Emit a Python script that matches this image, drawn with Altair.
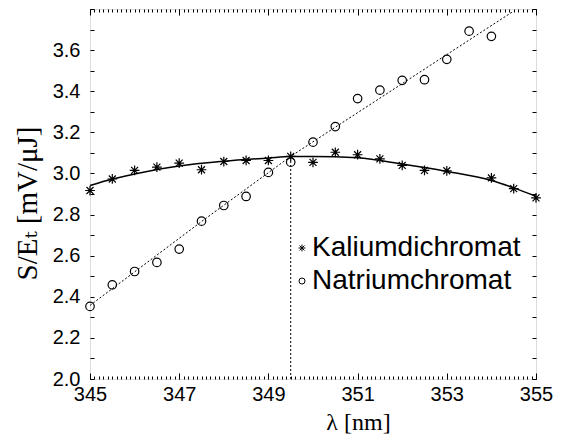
import altair as alt
import pandas as pd

# ---- data ----
k_x = [345, 345.5, 346, 346.5, 347, 347.5, 348, 348.5, 349, 349.5, 350, 350.5,
       351, 351.5, 352, 352.5, 353, 354, 354.5, 355]
k_y = [2.917, 2.973, 3.015, 3.031, 3.050, 3.018, 3.058, 3.063, 3.063, 3.083, 3.054, 3.103,
       3.091, 3.071, 3.039, 3.015, 3.013, 2.978, 2.926, 2.881]

n_x = [345, 345.5, 346, 346.5, 347, 347.5, 348, 348.5, 349, 349.5, 350, 350.5,
       351, 351.5, 352, 352.5, 353, 353.5, 354]
n_y = [2.353, 2.458, 2.523, 2.567, 2.632, 2.768, 2.844, 2.888, 3.005, 3.055, 3.152, 3.228,
       3.364, 3.405, 3.453, 3.456, 3.555, 3.692, 3.667]

kfit_x = [345, 345.5, 346, 347, 348, 349, 349.5, 350, 351, 352, 353, 354, 354.5, 355]
kfit_y = [2.941, 2.973, 2.997, 3.036, 3.059, 3.075, 3.082, 3.083, 3.076, 3.046, 3.010, 2.966, 2.930, 2.889]

nfit_x = [345, 347.5, 349.5, 350.5, 354.5]
nfit_y = [2.358, 2.766, 3.083, 3.225, 3.79]

cross_x = [349.5]
cross_y0 = [2.0]
cross_y1 = [3.083]

series_names = ["Kaliumdichromat", "Natriumchromat"]

x_major = [345, 347, 349, 351, 353, 355]
x_minor = [round(345 + 0.1 * i, 1) for i in range(101)]
y_ticks = [round(2.0 + 0.1 * i, 1) for i in range(19)]

ASTERISK = "M-1.15,0L1.15,0M0,-1.15L0,1.15M-0.82,-0.82L0.82,0.82M-0.82,0.82L0.82,-0.82"

# ---- scales & axes ----
xs = alt.Scale(domain=[345, 355], nice=False, zero=False)
ys = alt.Scale(domain=[2.0, 3.8], nice=False, zero=False)

LBL_FONT = "Liberation Sans"
TTL_FONT = "Liberation Serif, DejaVu Serif"
TICK = dict(tickColor="black", tickOpacity=1, tickWidth=1, zindex=1, domain=False, grid=False)

ax_bottom_major = alt.Axis(orient="bottom", values=x_major, format="d", tickSize=6, offset=-6,
                           labelFont=LBL_FONT, labelFontSize=20, labelColor="black",
                           labelPadding=5, labelFlush=False, labelOverlap=False,
                           title="λ [nm]", titleFont=TTL_FONT, titleFontSize=24, titleColor="black",
                           titleFontWeight="normal", titlePadding=6, titleX=268, **TICK)
ax_bottom_minor = alt.Axis(orient="bottom", values=x_minor, tickSize=3, offset=-3,
                           labels=False, title=None, **TICK)
ax_top_major = alt.Axis(orient="top", values=x_major, tickSize=6, offset=-6,
                        labels=False, title=None, **TICK)
ax_top_minor = alt.Axis(orient="top", values=x_minor, tickSize=3, offset=-3,
                        labels=False, title=None, **TICK)
ax_left = alt.Axis(orient="left", values=y_ticks, tickSize=4, offset=-4,
                   labelExpr="(round(datum.value*10) % 2 == 0 && datum.value < 3.75) ? format(datum.value, '.1f') : ''",
                   labelFont=LBL_FONT, labelFontSize=20, labelColor="black", labelPadding=10,
                   labelOverlap=False, labelFlush=False,
                   title="S/Eₜ [mV/μJ]", titleFont=TTL_FONT, titleFontSize=29, titleColor="black",
                   titleFontWeight="normal", titlePadding=10, titleAngle=270,
                   titleAlign="center", titleBaseline="bottom", titleY=194, **TICK)
ax_right = alt.Axis(orient="right", values=y_ticks, tickSize=4, offset=-4,
                    labels=False, title=None, **TICK)

# ---- layers ----
kfit = alt.Chart(pd.DataFrame({"x": kfit_x, "y": kfit_y})).mark_line(
    color="black", strokeWidth=1.5, interpolate="monotone"
).encode(x=alt.X("x:Q", scale=xs, axis=ax_bottom_major),
         y=alt.Y("y:Q", scale=ys, axis=ax_left))

nfit = alt.Chart(pd.DataFrame({"x": nfit_x, "y": nfit_y})).mark_line(
    color="black", strokeWidth=1, strokeDash=[2, 2]
).encode(x=alt.X("x:Q", scale=xs, axis=ax_bottom_minor),
         y=alt.Y("y:Q", scale=ys, axis=ax_right))

vline = alt.Chart(pd.DataFrame({"x": cross_x, "y": cross_y0, "y2": cross_y1})).mark_rule(
    color="black", strokeWidth=1, strokeDash=[2, 2]
).encode(x=alt.X("x:Q", scale=xs, axis=ax_top_major),
         y=alt.Y("y:Q", scale=ys, axis=None), y2="y2:Q")

pts_df = pd.DataFrame({
    "x": k_x + n_x,
    "y": k_y + n_y,
    "series": [series_names[0]] * len(k_x) + [series_names[1]] * len(n_x),
})
pts = alt.Chart(pts_df).mark_point(
    filled=False, color="black", strokeWidth=1.2, size=72, opacity=1
).encode(
    x=alt.X("x:Q", scale=xs, axis=ax_top_minor),
    y=alt.Y("y:Q", scale=ys, axis=None),
    shape=alt.Shape("series:N",
                    scale=alt.Scale(domain=series_names, range=[ASTERISK, "circle"]),
                    legend=alt.Legend(orient="none", legendX=198, legendY=225, title=None,
                                      padding=0, labelFont=LBL_FONT, labelFontSize=28,
                                      labelColor="black", labelOffset={"expr": "-4"},
                                      labelLimit=500, rowPadding=5,
                                      symbolSize=36, symbolStrokeColor="black",
                                      symbolFillColor="transparent", symbolStrokeWidth=1)),
)

chart = alt.layer(kfit, nfit, vline, pts).resolve_axis(
    x="independent", y="independent"
).properties(
    width=446, height=370,
    autosize=alt.AutoSizeParams(type="none"),
    padding={"left": 82, "top": 1, "right": 17, "bottom": 55},
).configure_view(
    stroke="black", strokeWidth=1
).configure(background="white")

chart.save("out.html", embed_options={"renderer": "svg", "actions": False})
